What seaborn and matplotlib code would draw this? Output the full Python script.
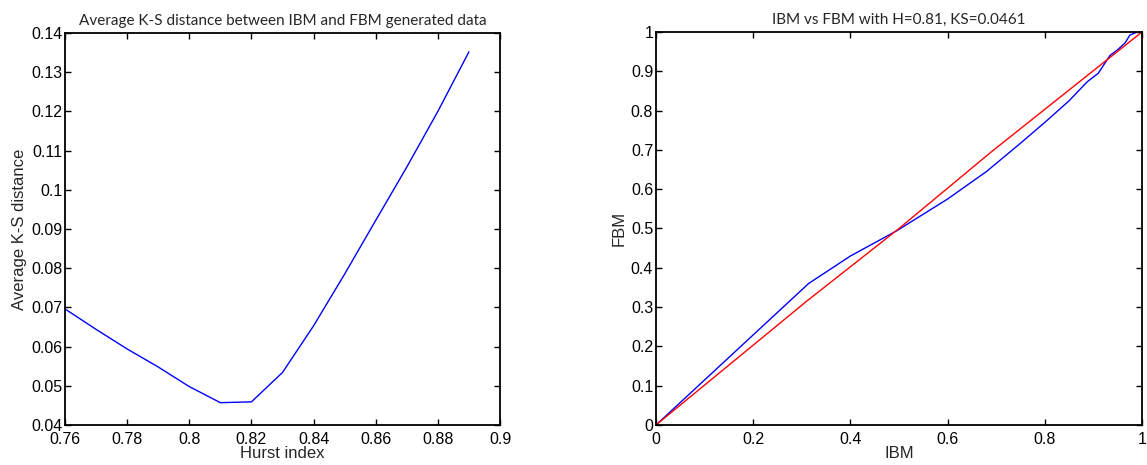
import matplotlib
matplotlib.use("Agg")
import matplotlib.pyplot as plt
import seaborn as sns
import pandas as pd
from matplotlib.ticker import FuncFormatter

# ---- data ----
hurst = [0.76, 0.77, 0.78, 0.79, 0.80, 0.81, 0.82, 0.83, 0.84, 0.85, 0.86, 0.87, 0.88, 0.89]
ks_dist = [0.0696, 0.0644, 0.0594, 0.0548, 0.0498, 0.0457, 0.0459, 0.0534, 0.0653, 0.0785,
           0.0922, 0.1058, 0.1200, 0.1352]

ibm_blue = [0.0, 0.314, 0.40, 0.495, 0.60, 0.68, 0.75, 0.80, 0.85, 0.887, 0.91, 0.934,
            0.95, 0.965, 0.975, 0.99, 1.0]
fbm_blue = [0.0, 0.36, 0.43, 0.494, 0.575, 0.645, 0.717, 0.77, 0.825, 0.873, 0.895, 0.94,
            0.955, 0.972, 0.992, 1.0, 1.0]

ibm_red = [0.0, 0.31, 0.50, 0.69, 1.0]
fbm_red = [0.0, 0.315, 0.50, 0.695, 1.0]

left_xticks = [0.76, 0.78, 0.80, 0.82, 0.84, 0.86, 0.88, 0.90]
left_yticks = [0.04, 0.05, 0.06, 0.07, 0.08, 0.09, 0.10, 0.11, 0.12, 0.13, 0.14]
right_xticks = [0, 0.2, 0.4, 0.6, 0.8, 1.0]
right_yticks = [0, 0.1, 0.2, 0.3, 0.4, 0.5, 0.6, 0.7, 0.8, 0.9, 1.0]

sns.set_theme(style="white")
plt.rcParams['font.family'] = ['Liberation Sans', 'DejaVu Sans']

fig = plt.figure(figsize=(11.47, 4.65), dpi=100)
ax1 = fig.add_axes([65/1147, 1-425/465, 435/1147, 392/465])
ax2 = fig.add_axes([656/1147, 1-425/465, 486/1147, 393/465])

df1 = pd.DataFrame({"h": hurst, "ks": ks_dist})
sns.lineplot(data=df1, x="h", y="ks", ax=ax1, color="#0000ff", linewidth=1.0)

df_b = pd.DataFrame({"ibm": ibm_blue, "fbm": fbm_blue})
df_r = pd.DataFrame({"ibm": ibm_red, "fbm": fbm_red})
sns.lineplot(data=df_b, x="ibm", y="fbm", ax=ax2, color="#0000ff", linewidth=1.0, sort=False)
sns.lineplot(data=df_r, x="ibm", y="fbm", ax=ax2, color="#ff0000", linewidth=1.0, sort=False)

fmt = FuncFormatter(lambda v, p: ("%g" % round(v, 4)))

for ax in (ax1, ax2):
    for s in ax.spines.values():
        s.set_color("black")
        s.set_linewidth(1.3)
    ax.tick_params(direction="in", length=4, width=1, colors="black",
                   top=True, right=True, bottom=True, left=True,
                   labelsize=11.5)
    ax.tick_params(axis="x", pad=5)
    ax.tick_params(axis="y", pad=2)
    ax.xaxis.set_major_formatter(fmt)
    ax.yaxis.set_major_formatter(fmt)

ax1.set_xlim(0.76, 0.90)
ax1.set_ylim(0.04, 0.14)
ax1.set_xticks(left_xticks)
ax1.set_yticks(left_yticks)
ax1.set_title("Average K-S distance between IBM and FBM generated data",
              fontsize=11, family=['Lato', 'DejaVu Sans'], pad=6)
ax1.set_xlabel("Hurst index", fontsize=12, labelpad=-1)
ax1.set_ylabel("Average K-S distance", fontsize=12, labelpad=3)

ax2.set_xlim(0, 1)
ax2.set_ylim(0, 1)
ax2.set_xticks(right_xticks)
ax2.set_yticks(right_yticks)
ax2.set_title("IBM vs FBM with H=0.81, KS=0.0461",
              fontsize=11, family=['Lato', 'DejaVu Sans'], pad=6)
ax2.set_xlabel("IBM", fontsize=12, labelpad=-1)
ax2.set_ylabel("FBM", fontsize=12, labelpad=3)

fig.savefig("out.png", dpi=100)
